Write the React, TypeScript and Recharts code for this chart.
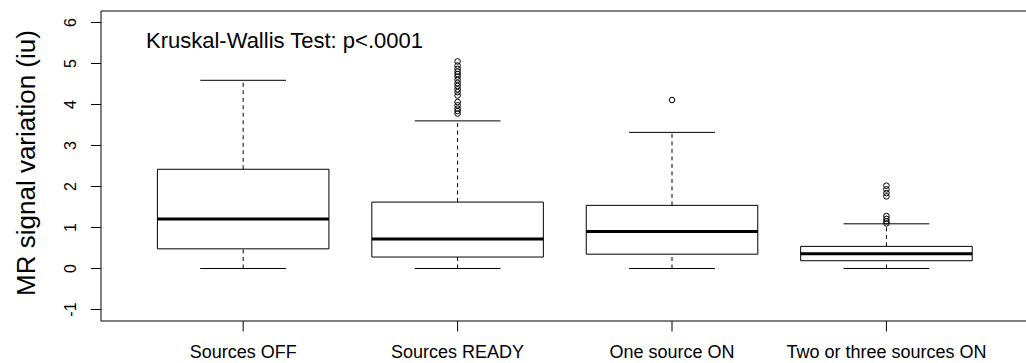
import React from "react";
import {
  ComposedChart,
  XAxis,
  YAxis,
  Scatter,
  ReferenceArea,
  ReferenceLine,
} from "recharts";

const categories = [
  "Sources OFF",
  "Sources READY",
  "One source ON",
  "Two or three sources ON",
];
const positions = [1, 2, 3, 4];
const lowerWhisker = [0.0, 0.0, 0.0, 0.0];
const q1 = [0.48, 0.28, 0.35, 0.19];
const medians = [1.21, 0.72, 0.9, 0.36];
const q3 = [2.42, 1.62, 1.54, 0.54];
const upperWhisker = [4.59, 3.6, 3.32, 1.09];
const outliersOff: number[] = [];
const outliersReady = [
  5.05, 4.95, 4.87, 4.8, 4.74, 4.68, 4.6, 4.52, 4.45, 4.37, 4.3, 4.22, 4.06,
  3.98, 3.9, 3.84, 3.78,
];
const outliersOne = [4.11];
const outliersTwo = [2.02, 1.93, 1.84, 1.76, 1.28, 1.21, 1.15, 1.1];
const yTicks = [-1, 0, 1, 2, 3, 4, 5, 6];
const yDomain = [-1.28, 6.28];
const xDomain = [0.337, 4.663];
const annotation = "Kruskal-Wallis Test: p<.0001";
const yTitle = "MR signal variation (iu)";

const allOutliers = [outliersOff, outliersReady, outliersOne, outliersTwo];
const outlierPoints = allOutliers.flatMap((list, i) =>
  list.map((v) => ({ x: positions[i], y: v }))
);

const FONT = "'Liberation Sans', Arial, sans-serif";
const BOX_HALF = 0.4;
const CAP_HALF = 0.2;

const YTick = (props: any) => {
  const { y, payload } = props;
  const bx = 76;
  return (
    <text
      x={bx}
      y={y}
      transform={`rotate(-90, ${bx}, ${y})`}
      textAnchor="middle"
      style={{ fontSize: 16, fontFamily: FONT }}
      fill="#000"
    >
      {payload.value}
    </text>
  );
};

const XTick = (props: any) => {
  const { x, payload } = props;
  const idx = positions.indexOf(payload.value);
  return (
    <text
      x={x}
      y={358}
      textAnchor="middle"
      style={{ fontSize: 18, fontFamily: FONT }}
      fill="#000"
    >
      {categories[idx]}
    </text>
  );
};

const Circle = (props: any) => {
  const { cx, cy } = props;
  return <circle cx={cx} cy={cy} r={2.8} fill="none" stroke="#000" strokeWidth={1} />;
};

export default function App() {
  return (
    <div
      style={{
        position: "fixed",
        top: 0,
        left: 0,
        width: 1026,
        height: 363,
        overflow: "hidden",
        background: "#fff",
      }}
    >
      <ComposedChart
        width={1040}
        height={363}
        margin={{ top: 11, right: 11.4, bottom: 0, left: 0 }}
      >
        <XAxis
          type="number"
          dataKey="x"
          domain={xDomain}
          ticks={positions}
          allowDataOverflow
          axisLine={false}
          tickLine={{ stroke: "#000", strokeWidth: 1 }}
          tickSize={10.5}
          height={42}
          tick={<XTick />}
          interval={0}
        />
        <YAxis
          type="number"
          dataKey="y"
          domain={yDomain}
          ticks={yTicks}
          allowDataOverflow
          axisLine={false}
          tickLine={{ stroke: "#000", strokeWidth: 1 }}
          tickSize={10}
          width={101}
          tick={<YTick />}
          interval={0}
        />
        {/* plot frame */}
        <ReferenceArea
          x1={xDomain[0]}
          x2={xDomain[1]}
          y1={yDomain[0]}
          y2={yDomain[1]}
          fill="none"
          stroke="#000"
          strokeWidth={1}
          ifOverflow="visible"
        />
        {positions.map((p, i) => (
          <ReferenceLine
            key={`wu${i}`}
            segment={[
              { x: p, y: q3[i] },
              { x: p, y: upperWhisker[i] },
            ]}
            stroke="#000"
            strokeWidth={1}
            strokeDasharray="4 3.5"
          />
        ))}
        {positions.map((p, i) => (
          <ReferenceLine
            key={`wl${i}`}
            segment={[
              { x: p, y: lowerWhisker[i] },
              { x: p, y: q1[i] },
            ]}
            stroke="#000"
            strokeWidth={1}
            strokeDasharray="4 3.5"
          />
        ))}
        {positions.map((p, i) => (
          <ReferenceLine
            key={`cu${i}`}
            segment={[
              { x: p - CAP_HALF, y: upperWhisker[i] },
              { x: p + CAP_HALF, y: upperWhisker[i] },
            ]}
            stroke="#000"
            strokeWidth={1}
          />
        ))}
        {positions.map((p, i) => (
          <ReferenceLine
            key={`cl${i}`}
            segment={[
              { x: p - CAP_HALF, y: lowerWhisker[i] },
              { x: p + CAP_HALF, y: lowerWhisker[i] },
            ]}
            stroke="#000"
            strokeWidth={1}
          />
        ))}
        {positions.map((p, i) => (
          <ReferenceArea
            key={`b${i}`}
            x1={p - BOX_HALF}
            x2={p + BOX_HALF}
            y1={q1[i]}
            y2={q3[i]}
            fill="#fff"
            fillOpacity={1}
            stroke="#000"
            strokeWidth={1}
          />
        ))}
        {positions.map((p, i) => (
          <ReferenceLine
            key={`m${i}`}
            segment={[
              { x: p - BOX_HALF, y: medians[i] },
              { x: p + BOX_HALF, y: medians[i] },
            ]}
            stroke="#000"
            strokeWidth={3}
          />
        ))}
        <Scatter
          data={outlierPoints}
          dataKey="y"
          shape={<Circle />}
          isAnimationActive={false}
        />
      </ComposedChart>
      <div
        style={{
          position: "absolute",
          left: 146,
          top: 29,
          fontFamily: FONT,
          fontSize: 22,
          color: "#000",
          whiteSpace: "nowrap",
          lineHeight: "24px",
        }}
      >
        {annotation}
      </div>
      <div
        style={{
          position: "absolute",
          left: 26,
          top: 163,
          transform: "translate(-50%, -50%) rotate(-90deg)",
          fontFamily: FONT,
          fontSize: 26,
          color: "#000",
          whiteSpace: "nowrap",
          lineHeight: "30px",
        }}
      >
        {yTitle}
      </div>
    </div>
  );
}
